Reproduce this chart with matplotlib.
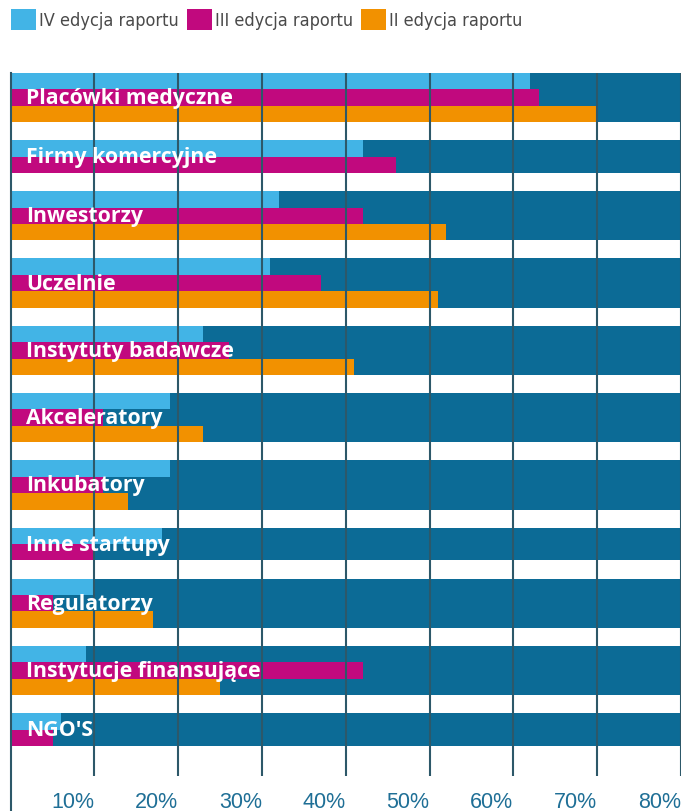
import matplotlib
matplotlib.use('Agg')
import matplotlib.pyplot as plt
from matplotlib import font_manager as fm
from matplotlib.patches import Patch

categories = ['Placówki medyczne', 'Firmy komercyjne', 'Inwestorzy', 'Uczelnie',
              'Instytuty badawcze', 'Akceleratory', 'Inkubatory', 'Inne startupy',
              'Regulatorzy', 'Instytucje finansujące', "NGO'S"]
edition_iv = [62, 42, 32, 31, 23, 19, 19, 18, 10, 9, 6]
edition_iii = [63, 46, 42, 37, 26, 11, 11, 10, 5, 42, 5]
edition_ii = [70, None, 52, 51, 41, 23, 14, None, 17, 25, None]
series_names = ['IV edycja raportu', 'III edycja raportu', 'II edycja raportu']
ticks = [10, 20, 30, 40, 50, 60, 70, 80]

colors = ['#42b4e6', '#c1097e', '#f29100']
band_color = '#0c6b96'
grid_color = '#2d5869'
tick_color = '#1f6f96'
legend_color = '#4a4a4a'


def pick_condensed():
    # look for any narrow / condensed regular face that is installed
    for f in fm.fontManager.ttflist:
        name = f.name.lower()
        narrow = 'narrow' in name or 'condensed' in name or \
            f.stretch in ('condensed', 'semi-condensed', 'extra-condensed', 'ultra-condensed')
        if narrow and f.style == 'normal' and f.weight in (400, 'normal', 'regular'):
            return fm.FontProperties(fname=f.fname)
    return None


legend_size = 13
cond = pick_condensed()
if cond is not None:
    legend_prop = cond.copy()
    legend_prop.set_size(legend_size)
else:
    legend_prop = fm.FontProperties(family='Liberation Sans', size=legend_size)

W, H = 683, 812
fig = plt.figure(figsize=(W / 100, H / 100), dpi=100)
ax = fig.add_axes([10.7 / W, 1 - 777 / H, 670.3 / W, 703 / H])

gap = 1.1
y = 0
for i, cat in enumerate(categories):
    vals = [edition_iv[i], edition_iii[i], edition_ii[i]]
    rows = [(v, c) for v, c in zip(vals, colors) if v is not None]
    n = len(rows)
    # dark background band behind the group
    ax.barh(y + n / 2, ticks[-1], height=n, left=0, color=band_color, zorder=1)
    for k, (v, c) in enumerate(rows):
        ax.barh(y + k + 0.5, v, height=1, left=0, color=c, zorder=2)
    ax.text(1.8, y + n / 2, cat, color='white', fontsize=15.3, fontweight='bold',
            family='Open Sans', va='center', ha='left', zorder=6)
    y += n + gap

ax.set_xlim(0, ticks[-1])
ax.set_ylim(y - gap + 1.83, 0)

for t in ticks:
    ax.axvline(t, color=grid_color, lw=1.5, zorder=4)
ax.axvline(0, ymin=-0.06, ymax=1, color=grid_color, lw=1.5, zorder=4, clip_on=False)

ax.set_yticks([])
ax.set_xticks(ticks)
ax.set_xticklabels(['%d%%' % t for t in ticks], ha='right', color=tick_color,
                   fontsize=15.5, family='Liberation Sans')
ax.tick_params(axis='x', length=0, pad=11)
for s in ax.spines.values():
    s.set_visible(False)

handles = [Patch(facecolor=c, edgecolor='none') for c in colors]
fig.legend(handles, series_names, loc='upper left', bbox_to_anchor=(11 / W, 1 - 10 / H),
           ncol=3, frameon=False, borderpad=0, borderaxespad=0,
           handlelength=18 / legend_size, handleheight=18 / legend_size,
           handletextpad=0.17, columnspacing=0.45,
           prop=legend_prop, labelcolor=legend_color)

fig.savefig('out.png', dpi=100)
